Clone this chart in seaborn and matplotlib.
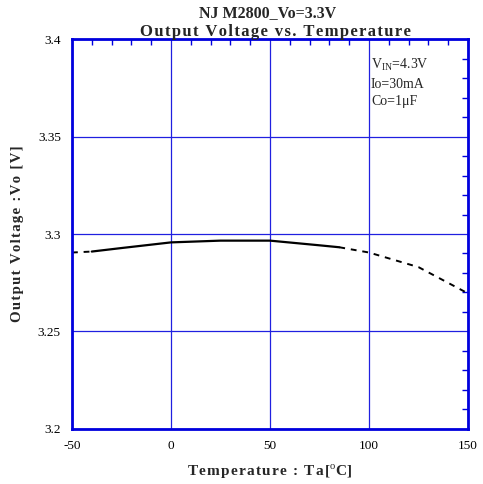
import numpy as np
import pandas as pd
import matplotlib
matplotlib.use('Agg')
import matplotlib.pyplot as plt
import seaborn as sns
from matplotlib.ticker import MultipleLocator

temp = [-50, -40, -25, 0, 25, 50, 75, 85, 100, 125, 150]
vout = [3.2905, 3.2910, 3.2928, 3.2957, 3.2966, 3.2966, 3.2942, 3.2932, 3.2905, 3.2830, 3.2695]
solid_range = (-40, 85)

title1 = 'NJ M2800_Vo=3.3V'
title2 = 'Output Voltage vs. Temperature'
xlab = 'Temperature : Ta['
ylab = 'Output Voltage :Vo [V]'
cond = 'V$_{\\rm IN}$=4.3V\nIo=30mA\nCo=1\u03bcF'

sns.set_style('white')
plt.rcParams['font.family'] = ['Liberation Serif', 'DejaVu Serif']
plt.rcParams['mathtext.fontset'] = 'custom'
plt.rcParams['mathtext.rm'] = 'Liberation Serif'
plt.rcParams['mathtext.bf'] = 'Liberation Serif:bold'
plt.rcParams['axes.unicode_minus'] = False


def spaced(s, gap='\u200a'):
    # wide letter spacing like the original chart
    return gap.join(s)


df = pd.DataFrame({'Ta': temp, 'Vo': vout})
lo = df[df['Ta'] <= solid_range[0]]
mid = df[(df['Ta'] >= solid_range[0]) & (df['Ta'] <= solid_range[1])]
hi = df[df['Ta'] >= solid_range[1]]

fig = plt.figure(figsize=(4.83, 4.84), dpi=100)
ax = fig.add_axes([0.149, 0.114, 0.820, 0.805])

sns.lineplot(data=mid, x='Ta', y='Vo', ax=ax, color='black', lw=1.6)
for part in (lo, hi):
    sns.lineplot(data=part, x='Ta', y='Vo', ax=ax, color='black', lw=1.4, linestyle=(0, (3, 3)))

ax.set_xlim(-50, 150)
ax.set_ylim(3.2, 3.4)
ax.xaxis.set_major_locator(MultipleLocator(50))
ax.xaxis.set_minor_locator(MultipleLocator(10))
ax.yaxis.set_minor_locator(MultipleLocator(0.01))
ax.set_yticks([3.2, 3.25, 3.3, 3.35, 3.4])
ax.set_yticklabels(['3.2', '3.25', '3.3', '3.35', '3.4'])
ax.grid(True, which='major', color='#2020e0', lw=0.9)

ax.tick_params(which='both', direction='in', top=True, right=True, colors='#0000dd',
               labelcolor='black', labelsize=9.5)
ax.tick_params(which='major', length=0, pad=8)
ax.tick_params(which='minor', length=4, width=1)
for s in ax.spines.values():
    s.set_color('#0000dd')
    s.set_linewidth(2)

ax.set_xlabel(spaced(xlab) + '$^{\\rm o}$C]', fontsize=11, fontweight='bold', labelpad=8)
ax.set_ylabel(spaced(ylab), fontsize=10.7, fontweight='bold', labelpad=10)
fig.text(0.553, 0.965, title1, ha='center', fontsize=11.5, fontweight='bold')
fig.text(0.570, 0.925, spaced(title2), ha='center', fontsize=12, fontweight='bold')

ax.text(0.755, 0.955, cond, transform=ax.transAxes,
        fontsize=10, va='top', linespacing=1.45)

fig.savefig('out.png', dpi=100)
